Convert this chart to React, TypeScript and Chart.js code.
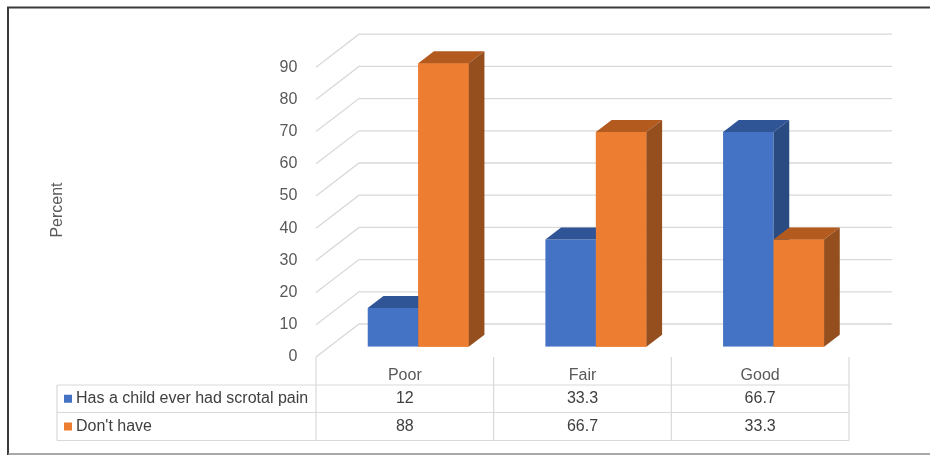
import React, { useEffect, useRef } from "react";
import { Chart, registerables } from "chart.js";

Chart.register(...registerables);

// ---- data ----
const categories = ["Poor", "Fair", "Good"];
const seriesNames = ["Has a child ever had scrotal pain", "Don't have"];
const hadPainValues = [12, 33.3, 66.7];
const dontHaveValues = [88, 66.7, 33.3];
const yMin = 0;
const yMax = 90;
const yStep = 10;
const yTitle = "Percent";

// ---- style ----
const FONT = "'Liberation Sans', Arial, sans-serif";
const seriesColors = ["#4472C4", "#ED7D31"];
const topColors = ["#2F5597", "#B35A1F"];
const sideColors = ["#294B82", "#954F1E"];
const GRID = "#D9D9D9";
const FRONT = { dx: -13.4, dy: 10.3 }; // axis front plane relative to bar fronts
const DEPTH = { dx: 15.7, dy: -12 }; // bar depth
const WALL = { dx: 29.6, dy: -22.7 }; // back wall relative to bar fronts

const threeD = {
  id: "threeD",
  beforeDraw(chart: any) {
    const ctx = chart.ctx;
    ctx.save();
    ctx.fillStyle = "#ffffff";
    ctx.fillRect(0, 0, chart.width, chart.height);
    ctx.strokeStyle = "#3a3a3a";
    ctx.lineWidth = 2;
    ctx.beginPath();
    ctx.moveTo(chart.width, 7.5);
    ctx.lineTo(8, 7.5);
    ctx.lineTo(8, chart.height);
    ctx.stroke();
    ctx.strokeStyle = "#8c8c8c";
    ctx.lineWidth = 1.5;
    ctx.beginPath();
    ctx.moveTo(8, chart.height - 1);
    ctx.lineTo(chart.width, chart.height - 1);
    ctx.stroke();
    // y title
    ctx.fillStyle = "#595959";
    ctx.font = `16px ${FONT}`;
    ctx.textAlign = "center";
    ctx.textBaseline = "middle";
    ctx.translate(58, 210);
    ctx.rotate(-Math.PI / 2);
    ctx.fillText(yTitle, 0, 0);
    ctx.restore();
  },
  beforeDatasetsDraw(chart: any) {
    const { ctx, chartArea: a } = chart;
    const y = chart.scales.y;
    ctx.save();
    ctx.strokeStyle = GRID;
    ctx.lineWidth = 1.3;
    y.ticks.forEach((t: any) => {
      const py = y.getPixelForValue(t.value);
      ctx.beginPath();
      ctx.moveTo(a.left + FRONT.dx, py + FRONT.dy);
      ctx.lineTo(a.left + WALL.dx, py + WALL.dy);
      ctx.lineTo(a.right + WALL.dx, py + WALL.dy);
      ctx.stroke();
    });
    ctx.restore();
  },
  afterDatasetsDraw(chart: any) {
    const ctx = chart.ctx;
    const n = chart.data.labels.length;
    const metas = chart.data.datasets.map((_: any, i: number) => chart.getDatasetMeta(i));
    ctx.save();
    for (let i = 0; i < n; i++) {
      metas.forEach((meta: any, d: number) => {
        const el = meta.data[i];
        if (!el) return;
        const { x, y, base, width } = el.getProps(["x", "y", "base", "width"], true);
        const l = x - width / 2;
        const r = x + width / 2;
        if (d > 0) el.draw(ctx);
        // top face
        ctx.fillStyle = topColors[d];
        ctx.beginPath();
        ctx.moveTo(l, y);
        ctx.lineTo(r, y);
        ctx.lineTo(r + DEPTH.dx, y + DEPTH.dy);
        ctx.lineTo(l + DEPTH.dx, y + DEPTH.dy);
        ctx.closePath();
        ctx.fill();
        // side face
        ctx.fillStyle = sideColors[d];
        ctx.beginPath();
        ctx.moveTo(r, y);
        ctx.lineTo(r + DEPTH.dx, y + DEPTH.dy);
        ctx.lineTo(r + DEPTH.dx, base + DEPTH.dy);
        ctx.lineTo(r, base);
        ctx.closePath();
        ctx.fill();
      });
    }
    ctx.restore();
  },
  afterDraw(chart: any) {
    const { ctx, chartArea: a } = chart;
    const xs = chart.scales.x;
    const n = categories.length;
    const catW = (a.right - a.left) / n;
    const fLeft = a.left + FRONT.dx;
    const floorY = a.bottom + FRONT.dy;
    const tableLeft = 57;
    const rows = [385, 412.5, 440.5];
    const tableRight = fLeft + catW * n;
    ctx.save();
    ctx.strokeStyle = GRID;
    ctx.lineWidth = 1.2;
    rows.forEach((ry) => {
      ctx.beginPath();
      ctx.moveTo(tableLeft, ry);
      ctx.lineTo(tableRight, ry);
      ctx.stroke();
    });
    ctx.beginPath();
    ctx.moveTo(tableLeft, rows[0]);
    ctx.lineTo(tableLeft, rows[2]);
    ctx.stroke();
    for (let i = 0; i <= n; i++) {
      const vx = fLeft + catW * i;
      ctx.beginPath();
      ctx.moveTo(vx, floorY);
      ctx.lineTo(vx, rows[2]);
      ctx.stroke();
    }
    const seriesValues = [hadPainValues, dontHaveValues];
    ctx.font = `16px ${FONT}`;
    ctx.textBaseline = "middle";
    seriesValues.forEach((vals, r) => {
      const cy = (rows[r] + rows[r + 1]) / 2;
      ctx.fillStyle = seriesColors[r];
      ctx.fillRect(64, cy - 4, 8, 8);
      ctx.fillStyle = "#404040";
      ctx.textAlign = "left";
      ctx.fillText(seriesNames[r], 76, cy);
      ctx.textAlign = "center";
      vals.forEach((v, i) => {
        ctx.fillText(String(v), xs.getPixelForValue(i) + FRONT.dx, cy);
      });
    });
    ctx.restore();
  },
};

export default function App() {
  const ref = useRef<HTMLCanvasElement | null>(null);
  useEffect(() => {
    if (!ref.current) return;
    const chart = new Chart(ref.current, {
      type: "bar",
      data: {
        labels: categories,
        datasets: [
          {
            label: seriesNames[0],
            data: hadPainValues,
            backgroundColor: seriesColors[0],
            borderWidth: 0,
            categoryPercentage: 0.5685,
            barPercentage: 1,
          },
          {
            label: seriesNames[1],
            data: dontHaveValues,
            backgroundColor: seriesColors[1],
            borderWidth: 0,
            categoryPercentage: 0.5685,
            barPercentage: 1,
          },
        ],
      },
      options: {
        animation: false,
        responsive: false,
        devicePixelRatio: 1,
        layout: { padding: { left: 0, top: 56.9, right: 67.6, bottom: 0 } },
        plugins: { legend: { display: false }, tooltip: { enabled: false } },
        font: { family: FONT },
        scales: {
          x: {
            grid: { display: false, drawTicks: false },
            border: { display: false },
            ticks: {
              color: "#595959",
              font: { family: FONT, size: 16 },
              padding: 19.5,
              labelOffset: FRONT.dx,
              maxRotation: 0,
            },
            afterFit: (s: any) => {
              s.height = 108.3;
            },
          },
          y: {
            min: yMin,
            max: yMax,
            grid: { display: false, drawTicks: false },
            border: { display: false },
            ticks: {
              stepSize: yStep,
              color: "#595959",
              font: { family: FONT, size: 16 },
              padding: 32,
              labelOffset: FRONT.dy,
            },
            afterFit: (s: any) => {
              s.width = 329.4;
            },
          },
        },
      } as any,
      plugins: [threeD],
    });
    return () => chart.destroy();
  }, []);
  return (
    <div style={{ position: "fixed", left: 0, top: 0, width: 930, height: 455, background: "#fff" }}>
      <canvas ref={ref} width={930} height={455} style={{ display: "block" }} />
    </div>
  );
}
